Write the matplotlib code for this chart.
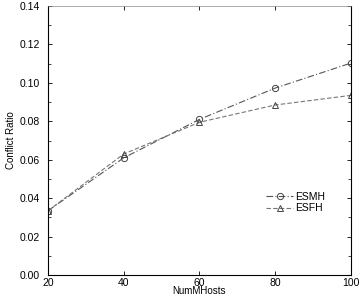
import matplotlib
matplotlib.use("Agg")
import matplotlib.pyplot as plt
from matplotlib.ticker import MultipleLocator

plt.rcParams["font.family"] = ["Liberation Sans", "DejaVu Sans"]

num_hosts = [20, 40, 60, 80, 100]
esmh = [0.0335, 0.0610, 0.0810, 0.0973, 0.1103]
esfh = [0.0335, 0.0630, 0.0795, 0.0885, 0.0935]

fig = plt.figure(figsize=(3.61, 3.0), dpi=100)
ax = fig.add_axes([0.133, 0.083, 0.839, 0.897])

ax.plot(num_hosts, esmh, color="#555555", lw=0.8, ls=(0, (6, 2, 1, 2)),
        marker="o", ms=4.5, mfc="none", mec="#444444", mew=0.7, label="ESMH")
ax.plot(num_hosts, esfh, color="#777777", lw=0.8, ls=(0, (4, 2)),
        marker="^", ms=4.5, mfc="none", mec="#444444", mew=0.7, label="ESFH")

ax.set_xlim(20, 100)
ax.set_ylim(0, 0.14)
ax.set_xticks(num_hosts)
ax.set_yticks([0.00, 0.02, 0.04, 0.06, 0.08, 0.10, 0.12, 0.14])
ax.set_yticklabels(["0.00", "0.02", "0.04", "0.06", "0.08", "0.10", "0.12", "0.14"])
ax.yaxis.set_minor_locator(MultipleLocator(0.01))
ax.tick_params(direction="in", labelsize=7.5, length=3, width=0.6, top=True, right=True)
ax.tick_params(axis="y", pad=6)
ax.tick_params(axis="x", pad=2)
ax.tick_params(which="minor", direction="in", length=2, width=0.5, right=True)
for side in ["left", "bottom", "right"]:
    ax.spines[side].set_linewidth(0.8)
ax.spines["top"].set_linewidth(0.5)
ax.spines["top"].set_color("#888888")

ax.set_xlabel("NumMHosts", fontsize=7, labelpad=-1)
ax.set_ylabel("Conflict Ratio", fontsize=7)
ax.yaxis.set_label_coords(-0.105, 0.5)

ax.legend(loc="center left", bbox_to_anchor=(0.69, 0.27), frameon=False,
          fontsize=7.5, handlelength=2.6, handletextpad=0.2, labelspacing=0.15)

fig.savefig("out.png", dpi=100)
